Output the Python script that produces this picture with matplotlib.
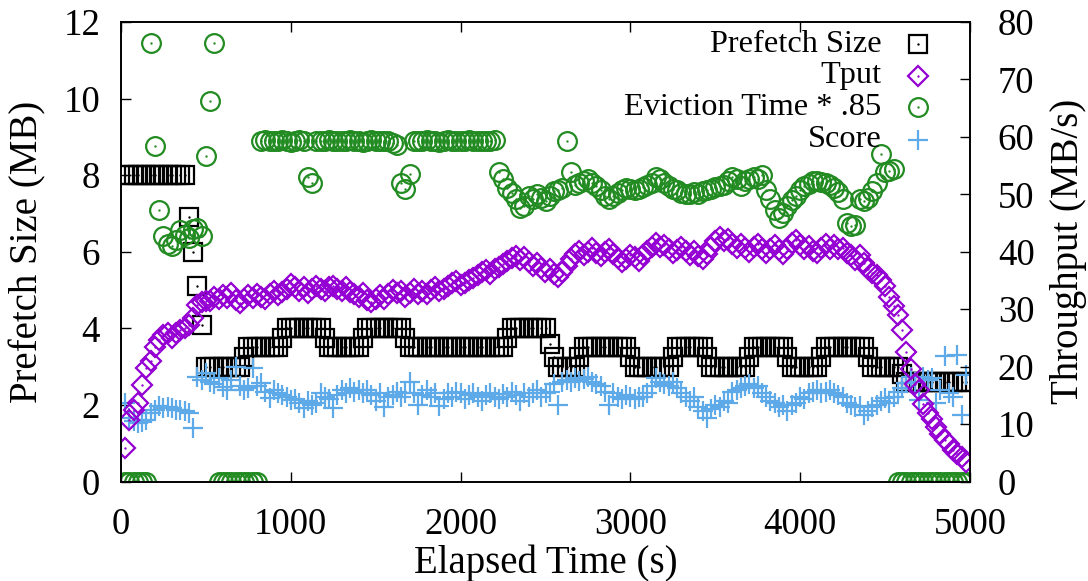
import numpy as np
import matplotlib
matplotlib.use("Agg")
import matplotlib.pyplot as plt

# ---------------- data (sampled every 25 s) ----------------
elapsed = np.arange(25, 5000, 25)  # seconds, 199 samples

prefetch_mb = [
    8, 8, 8, 8, 8, 8, 8, 8, 8, 8,
    8, 8, 8, 8, 8, 6.9, 6.0, 5.1, 4.1, 3.0,
    3.0, 3.0, 3.0, 3.0, 3.0, 3.0, 3.0, 3.0, 3.25, 3.5,
    3.5, 3.5, 3.5, 3.5, 3.5, 3.5, 3.5, 3.75, 4.0, 4.0,
    4.0, 4.0, 4.0, 4.0, 4.0, 4.0, 4.0, 3.75, 3.5, 3.5,
    3.5, 3.5, 3.5, 3.5, 3.5, 3.5, 3.75, 4.0, 4.0, 4.0,
    4.0, 4.0, 4.0, 4.0, 4.0, 4.0, 3.75, 3.5, 3.5, 3.5,
    3.5, 3.5, 3.5, 3.5, 3.5, 3.5, 3.5, 3.5, 3.5, 3.5,
    3.5, 3.5, 3.5, 3.5, 3.5, 3.5, 3.5, 3.5, 3.5, 3.5,
    3.75, 4.0, 4.0, 4.0, 4.0, 4.0, 4.0, 4.0, 4.0, 4.0,
    3.6, 3.25, 3.0, 3.0, 3.0, 3.0, 3.0, 3.25, 3.5, 3.5,
    3.5, 3.5, 3.5, 3.5, 3.5, 3.5, 3.5, 3.5, 3.5, 3.25,
    3.0, 3.0, 3.0, 3.0, 3.0, 3.0, 3.0, 3.0, 3.0, 3.25,
    3.5, 3.5, 3.5, 3.5, 3.5, 3.5, 3.5, 3.25, 3.0, 3.0,
    3.0, 3.0, 3.0, 3.0, 3.0, 3.0, 3.0, 3.25, 3.5, 3.5,
    3.5, 3.5, 3.5, 3.5, 3.5, 3.5, 3.25, 3.0, 3.0, 3.0,
    3.0, 3.0, 3.0, 3.0, 3.25, 3.5, 3.5, 3.5, 3.5, 3.5,
    3.5, 3.5, 3.5, 3.5, 3.5, 3.25, 3.0, 3.0, 3.0, 3.0,
    3.0, 3.0, 3.0, 2.8, 2.6, 2.6, 2.6, 2.6, 2.6, 2.6,
    2.6, 2.6, 2.6, 2.6, 2.6, 2.6, 2.6, 2.6, 2.6,
]

tput_mbs = [
    5.8, 10.7, 12.5, 13.7, 16.8, 19.7, 21.0, 23.5, 24.7, 25.5,
    25.8, 25.0, 25.8, 26.4, 26.7, 27.3, 28.4, 30.8, 31.2, 31.5,
    31.5, 32.2, 31.8, 32.5, 32.0, 32.8, 31.6, 31.1, 31.8, 32.4,
    32.0, 32.6, 32.2, 31.8, 32.7, 33.2, 32.5, 33.0, 33.6, 34.3,
    33.8, 33.2, 33.9, 32.9, 33.5, 34.0, 33.6, 33.2, 33.8, 34.0,
    33.6, 33.2, 33.9, 33.0, 32.6, 32.2, 32.8, 31.6, 31.2, 31.8,
    32.4, 31.8, 32.6, 33.4, 32.8, 33.2, 32.2, 32.9, 33.6, 32.7,
    33.2, 32.6, 33.3, 33.9, 33.2, 33.6, 34.0, 34.5, 34.9, 34.2,
    34.6, 35.0, 35.5, 36.0, 36.5, 36.8, 36.2, 37.0, 37.4, 37.9,
    38.4, 38.9, 39.3, 38.6, 39.0, 38.2, 37.6, 38.0, 37.2, 36.5,
    37.0, 36.2, 35.6, 36.4, 37.5, 38.8, 39.6, 40.2, 39.4, 40.0,
    40.6, 39.8, 39.2, 39.9, 40.4, 39.6, 38.9, 38.3, 38.8, 39.5,
    39.0, 38.4, 39.4, 40.2, 40.9, 41.5, 40.8, 41.2, 40.4, 39.7,
    40.3, 40.9, 40.1, 39.5, 40.2, 39.2, 38.8, 39.6, 40.8, 41.8,
    42.5, 41.9, 42.3, 41.4, 40.7, 41.3, 40.6, 40.0, 40.8, 41.4,
    40.5, 39.8, 40.4, 41.2, 40.3, 39.6, 40.5, 41.6, 42.1, 41.2,
    40.4, 41.0, 40.2, 39.8, 40.6, 41.3, 40.5, 41.2, 40.4, 40.6,
    39.8, 39.5, 38.5, 39.5, 38.0, 37.0, 36.3, 36.0, 35.0, 34.0,
    32.2, 30.5, 29.0, 26.4, 22.5, 19.5, 17.0, 16.0, 13.5, 12.0,
    10.8, 9.5, 8.3, 7.3, 6.5, 5.5, 4.8, 4.2, 3.45,
]

eviction_scaled = [
    0, 0, 0, 0, 0, 0, 11.45, 8.77, 7.09, 6.41,
    6.19, 6.15, 6.3, 6.58, 6.45, 6.37, 6.6, 6.63, 6.4, 8.5,
    9.93, 11.45, 0, 0, 0, 0, 0, 0, 0, 0,
    0, 0, 8.9, 8.92, 8.88, 8.9, 8.9, 8.93, 8.9, 8.87,
    8.9, 8.92, 8.9, 7.96, 7.79, 8.9, 8.88, 8.9, 8.92, 8.9,
    8.9, 8.88, 8.9, 8.93, 8.9, 8.9, 8.87, 8.9, 8.92, 8.9,
    8.9, 8.88, 8.9, 8.85, 8.8, 7.8, 7.63, 8.02, 8.9, 8.9,
    8.88, 8.92, 8.9, 8.9, 8.87, 8.9, 8.93, 8.9, 8.9, 8.88,
    8.9, 8.92, 8.9, 8.9, 8.88, 8.9, 8.9, 8.92, 8.08, 7.9,
    7.67, 7.54, 7.37, 7.15, 7.2, 7.45, 7.37, 7.5, 7.4, 7.32,
    7.45, 7.59, 7.62, 7.67, 8.9, 8.07, 7.75, 7.8, 7.85, 7.89,
    7.8, 7.72, 7.6, 7.45, 7.37, 7.45, 7.54, 7.6, 7.67, 7.65,
    7.6, 7.63, 7.7, 7.75, 7.8, 7.94, 7.9, 7.8, 7.72, 7.65,
    7.6, 7.54, 7.52, 7.5, 7.55, 7.5, 7.58, 7.6, 7.63, 7.68,
    7.72, 7.75, 7.85, 7.94, 7.9, 7.72, 7.85, 7.89, 7.94, 7.9,
    8.0, 7.6, 7.37, 7.1, 6.89, 7.0, 7.19, 7.35, 7.46, 7.6,
    7.72, 7.78, 7.85, 7.85, 7.82, 7.8, 7.75, 7.67, 7.55, 7.37,
    6.76, 6.67, 6.7, 7.37, 7.32, 7.4, 7.59, 7.8, 8.55, 8.07,
    8.11, 8.15, 0, 0, 0, 0, 0, 0, 0, 0,
    0, 0, 0, 0, 0, 0, 0, 0, 0,
]

score = [
    2.05, 1.65, 1.57, 1.52, 1.55, 1.61, 1.79, 1.87, 1.96, 1.92,
    1.95, 1.92, 1.88, 1.87, 1.83, 1.79, 1.39, 2.74, 2.66, 2.83,
    2.6, 2.55, 2.7, 2.48, 2.39, 2.66, 3.0, 2.5, 2.4, 2.45,
    2.96, 2.5, 2.57, 2.35, 2.18, 2.4, 2.3, 2.26, 2.2, 2.13,
    2.15, 2.05, 1.92, 2.1, 2.0, 2.05, 2.31, 2.2, 2.15, 1.92,
    2.25, 2.4, 2.3, 2.45, 2.35, 2.4, 2.3, 2.38, 2.25, 2.1,
    2.3, 1.95, 2.2, 2.25, 2.35, 2.2, 2.3, 2.6, 2.3, 2.0,
    2.25, 2.4, 2.2, 2.3, 1.96, 2.15, 2.3, 2.2, 2.35, 2.3,
    2.15, 2.25, 2.3, 2.2, 2.1, 2.25, 2.3, 2.2, 2.15, 2.28,
    2.2, 2.35, 2.25, 2.1, 2.3, 2.2, 2.3, 2.4, 2.2, 2.3,
    2.35, 2.55, 2.0, 2.6, 2.65, 2.6, 2.7, 2.62, 2.68, 2.72,
    2.6, 2.55, 2.5, 2.35, 2.0, 2.3, 2.2, 2.15, 2.25, 2.2,
    2.15, 2.2, 2.2, 2.3, 2.5, 2.7, 2.6, 2.55, 2.5, 2.6,
    2.45, 2.3, 2.2, 2.1, 2.2, 1.95, 1.85, 1.65, 1.9, 2.0,
    1.95, 2.1, 2.05, 2.35, 2.4, 2.45, 2.5, 2.55, 2.45, 2.5,
    2.3, 2.2, 2.1, 2.05, 1.95, 2.0, 1.85, 2.0, 2.05, 2.2,
    2.15, 2.3, 2.35, 2.4, 2.3, 2.35, 2.4, 2.3, 2.25, 2.2,
    2.05, 2.0, 1.95, 1.96, 1.74, 1.85, 1.95, 2.0, 2.1, 2.18,
    2.05, 2.2, 2.35, 2.45, 2.57, 2.74, 2.6, 2.13, 2.74, 2.65,
    2.7, 2.05, 2.4, 3.27, 2.31, 2.2, 3.31, 1.74, 2.79,
]

labels = ["Prefetch Size", "Tput", "Eviction Time * .85", "Score"]
x_ticks = [0, 1000, 2000, 3000, 4000, 5000]
y_ticks = [0, 2, 4, 6, 8, 10, 12]
y2_ticks = [0, 10, 20, 30, 40, 50, 60, 70, 80]

# ---------------- style ----------------
FONT = ["Liberation Serif", "DejaVu Serif"]
plt.rcParams["font.family"] = FONT
TICK_FS = 26.5
LABEL_FS = 28
LEG_FS = 23.3

C_PREF = "black"
C_TPUT = "#9400D3"
C_EVIC = "#228B22"
C_SCORE = "#5EA9E8"

st_pref = dict(marker="s", markersize=13, mec=C_PREF, mew=1.6, mfc="none")
st_tput = dict(marker="D", markersize=9.8, mec=C_TPUT, mew=1.6, mfc="none")
st_evic = dict(marker="o", markersize=13.5, mec=C_EVIC, mew=1.6, mfc="none")
st_score = dict(marker="+", markersize=14, mec=C_SCORE, mew=1.6, mfc="none")
dot = dict(linestyle="none", marker="o", markersize=1.7, mew=0)

fig = plt.figure(figsize=(10.88, 5.81), dpi=100)
ax = fig.add_axes([121 / 1088, 1 - 481.5 / 581, (970 - 121) / 1088, (481.5 - 22) / 581])
ax2 = ax.twinx()

ax.plot(elapsed, prefetch_mb, linestyle="none", **st_pref)
ax.plot(elapsed, prefetch_mb, color=C_PREF, **dot)

ax2.plot(elapsed, tput_mbs, linestyle="none", **st_tput)
ax2.plot(elapsed, tput_mbs, color=C_TPUT, **dot)

ax.plot(elapsed, eviction_scaled, linestyle="none", **st_evic)
ax.plot(elapsed, eviction_scaled, color=C_EVIC, **dot)

ax.plot(elapsed, score, linestyle="none", **st_score)

for a in (ax, ax2):
    for s in a.spines.values():
        s.set_linewidth(1.2)

ax.set_xlim(0, 5000)
ax.set_ylim(0, 12)
ax2.set_ylim(0, 80)
ax.set_xticks(x_ticks)
ax.set_yticks(y_ticks)
ax2.set_yticks(y2_ticks)

ax.tick_params(axis="x", direction="in", length=7, width=1.0, top=True,
               pad=19, labelsize=TICK_FS)
ax.tick_params(axis="y", direction="in", length=7, width=1.0, right=False,
               pad=15, labelsize=TICK_FS)
ax2.tick_params(axis="y", direction="in", length=7, width=1.0,
                pad=20, labelsize=TICK_FS)

ax.set_xlabel("Elapsed Time (s)", fontsize=LABEL_FS, va="top")
ax.xaxis.set_label_coords(0.5, (481.5 - 545) / 459.5)
ax.set_ylabel("Prefetch Size (MB)", fontsize=LABEL_FS, va="center")
ax.yaxis.set_label_coords((28 - 121) / 849, 0.5)
ax2.set_ylabel("Throughput (MB/s)", fontsize=LABEL_FS, rotation=90, va="center")
ax2.yaxis.set_label_coords((1069 - 121) / 849, 0.5)

# legend (gnuplot-like: text right aligned, symbol to its right)
leg_y = [0.952, 0.883, 0.814, 0.744]
mx = 0.939
tx = 0.896
leg_styles = [(st_pref, C_PREF), (st_tput, C_TPUT), (st_evic, C_EVIC), (st_score, None)]
for lab, yy, (st, dc) in zip(labels, leg_y, leg_styles):
    ax2.text(tx, yy, lab, transform=ax.transAxes, ha="right", va="center", fontsize=LEG_FS)
    ax2.plot([mx], [yy], transform=ax.transAxes, linestyle="none", clip_on=False, **st)
    if dc is not None:
        ax2.plot([mx], [yy], transform=ax.transAxes, color=dc, clip_on=False, **dot)

fig.savefig("out.png", dpi=100)
